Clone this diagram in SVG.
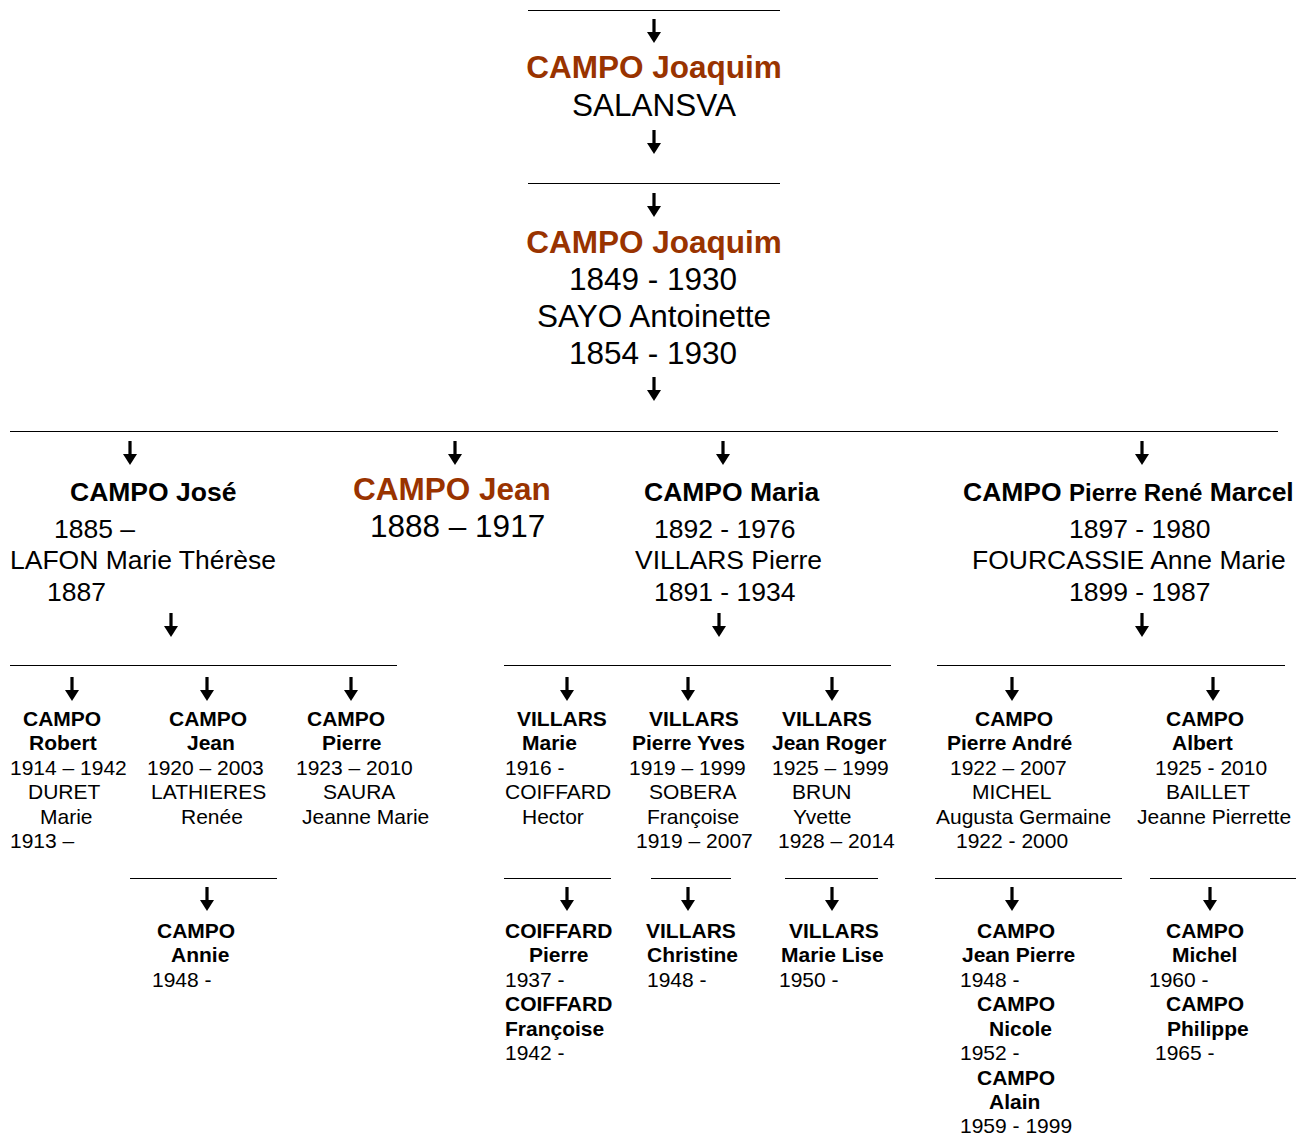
<svg xmlns="http://www.w3.org/2000/svg" width="1310" height="1135" viewBox="0 0 1310 1135">
<style>
text{font-family:"Liberation Sans",Arial,sans-serif;fill:#000}
.b{font-size:21px;font-weight:bold}
.r{font-size:21px}
.B{font-size:26.5px;font-weight:bold}
.R{font-size:26.5px}
.H{font-size:31.5px;font-weight:bold;fill:#993300}
.T{font-size:31.5px}
.m{text-anchor:middle}
.ln{stroke:#000;stroke-width:1.2}
</style>
<defs>
<g id="arr"><rect x="-1.6" y="0" width="3.2" height="14"/><polygon points="-7,13 7,13 0,24"/></g>
</defs>
<rect width="1310" height="1135" fill="#fff"/>
<g id="connectors">
<line class="ln" x1="528" y1="10.5" x2="780" y2="10.5"/>
<line class="ln" x1="528" y1="183.5" x2="780" y2="183.5"/>
<line class="ln" x1="10" y1="431.5" x2="1278" y2="431.5"/>
<line class="ln" x1="10" y1="665.5" x2="397" y2="665.5"/>
<line class="ln" x1="504" y1="665.5" x2="891" y2="665.5"/>
<line class="ln" x1="937" y1="665.5" x2="1285" y2="665.5"/>
<line class="ln" x1="130" y1="878.5" x2="277" y2="878.5"/>
<line class="ln" x1="504" y1="878.5" x2="611" y2="878.5"/>
<line class="ln" x1="651" y1="878.5" x2="731" y2="878.5"/>
<line class="ln" x1="785" y1="878.5" x2="878" y2="878.5"/>
<line class="ln" x1="935" y1="878.5" x2="1122" y2="878.5"/>
<line class="ln" x1="1150" y1="878.5" x2="1296" y2="878.5"/>
<use href="#arr" x="654" y="19"/>
<use href="#arr" x="654" y="130"/>
<use href="#arr" x="654" y="193"/>
<use href="#arr" x="654" y="377"/>
<use href="#arr" x="130" y="441"/>
<use href="#arr" x="455" y="441"/>
<use href="#arr" x="723" y="441"/>
<use href="#arr" x="1142" y="441"/>
<use href="#arr" x="171" y="613"/>
<use href="#arr" x="719" y="613"/>
<use href="#arr" x="1142" y="613"/>
<use href="#arr" x="72" y="677"/>
<use href="#arr" x="207" y="677"/>
<use href="#arr" x="351" y="677"/>
<use href="#arr" x="567" y="677"/>
<use href="#arr" x="688" y="677"/>
<use href="#arr" x="832" y="677"/>
<use href="#arr" x="1012" y="677"/>
<use href="#arr" x="1213" y="677"/>
<use href="#arr" x="207" y="887"/>
<use href="#arr" x="567" y="887"/>
<use href="#arr" x="688" y="887"/>
<use href="#arr" x="832" y="887"/>
<use href="#arr" x="1012" y="887"/>
<use href="#arr" x="1210" y="887"/>
</g>
<g transform="translate(0,-1)">
<g id="n-joaquim-salansva">
<text class="H m" x="654" y="79">CAMPO Joaquim</text>
<text class="T m" x="654" y="116.5">SALANSVA</text>
</g>
<g id="n-joaquim-sayo">
<text class="H m" x="654" y="253.5">CAMPO Joaquim</text>
<text class="T m" x="653" y="290.5">1849 - 1930</text>
<text class="T m" x="654" y="327.5">SAYO Antoinette</text>
<text class="T m" x="653" y="364.5">1854 - 1930</text>
</g>
<g id="n-jose">
<text class="B" x="70" y="501.5">CAMPO José</text>
<text class="R" x="54" y="538.5">1885 –</text>
<text class="R" x="10" y="570">LAFON Marie Thérèse</text>
<text class="R" x="47" y="601.5">1887</text>
</g>
<g id="n-jean">
<text class="H" x="353" y="501">CAMPO Jean</text>
<text class="T" x="370" y="538">1888 – 1917</text>
</g>
<g id="n-maria">
<text class="B" x="644" y="501.5">CAMPO Maria</text>
<text class="R" x="654" y="538.5">1892 - 1976</text>
<text class="R" x="635" y="570">VILLARS Pierre</text>
<text class="R" x="654" y="601.5">1891 - 1934</text>
</g>
<g id="n-pierre-rene">
<text class="B" x="963" y="501.5">CAMPO <tspan font-size="24">Pierre René</tspan> Marcel</text>
<text class="R" x="1069" y="538.5">1897 - 1980</text>
<text class="R" x="972" y="570">FOURCASSIE Anne Marie</text>
<text class="R" x="1069" y="601.5">1899 - 1987</text>
</g>
<g id="n-robert">
<text class="b" x="23" y="726.5">CAMPO</text>
<text class="b" x="29" y="751">Robert</text>
<text class="r" x="10" y="775.5">1914 – 1942</text>
<text class="r" x="28" y="800">DURET</text>
<text class="r" x="40" y="824.5">Marie</text>
<text class="r" x="10" y="849">1913 –</text>
</g>
<g id="n-jean2">
<text class="b" x="169" y="726.5">CAMPO</text>
<text class="b" x="187" y="751">Jean</text>
<text class="r" x="147" y="775.5">1920 – 2003</text>
<text class="r" x="151" y="800">LATHIERES</text>
<text class="r" x="181" y="824.5">Renée</text>
</g>
<g id="n-pierre">
<text class="b" x="307" y="726.5">CAMPO</text>
<text class="b" x="322" y="751">Pierre</text>
<text class="r" x="296" y="775.5">1923 – 2010</text>
<text class="r" x="323" y="800">SAURA</text>
<text class="r" x="302" y="824.5">Jeanne Marie</text>
</g>
<g id="n-annie">
<text class="b" x="157" y="938.5">CAMPO</text>
<text class="b" x="171" y="963">Annie</text>
<text class="r" x="152" y="987.5">1948 -</text>
</g>
<g id="n-villars-marie">
<text class="b" x="517" y="726.5">VILLARS</text>
<text class="b" x="522" y="751">Marie</text>
<text class="r" x="505" y="775.5">1916 -</text>
<text class="r" x="505" y="800">COIFFARD</text>
<text class="r" x="522" y="824.5">Hector</text>
</g>
<g id="n-villars-pierre-yves">
<text class="b" x="649" y="726.5">VILLARS</text>
<text class="b" x="632" y="751">Pierre Yves</text>
<text class="r" x="629" y="775.5">1919 – 1999</text>
<text class="r" x="649" y="800">SOBERA</text>
<text class="r" x="647" y="824.5">Françoise</text>
<text class="r" x="636" y="849">1919 – 2007</text>
</g>
<g id="n-villars-jean-roger">
<text class="b" x="782" y="726.5">VILLARS</text>
<text class="b" x="772" y="751">Jean Roger</text>
<text class="r" x="772" y="775.5">1925 – 1999</text>
<text class="r" x="792" y="800">BRUN</text>
<text class="r" x="793" y="824.5">Yvette</text>
<text class="r" x="778" y="849">1928 – 2014</text>
</g>
<g id="n-coiffard">
<text class="b" x="505" y="938.5">COIFFARD</text>
<text class="b" x="529" y="963">Pierre</text>
<text class="r" x="505" y="987.5">1937 -</text>
<text class="b" x="505" y="1012">COIFFARD</text>
<text class="b" x="505" y="1036.5">Françoise</text>
<text class="r" x="505" y="1061">1942 -</text>
</g>
<g id="n-christine">
<text class="b" x="646" y="938.5">VILLARS</text>
<text class="b" x="647" y="963">Christine</text>
<text class="r" x="647" y="987.5">1948 -</text>
</g>
<g id="n-marie-lise">
<text class="b" x="789" y="938.5">VILLARS</text>
<text class="b" x="781" y="963">Marie Lise</text>
<text class="r" x="779" y="987.5">1950 -</text>
</g>
<g id="n-pierre-andre">
<text class="b" x="975" y="726.5">CAMPO</text>
<text class="b" x="947" y="751">Pierre André</text>
<text class="r" x="950" y="775.5">1922 – 2007</text>
<text class="r" x="972" y="800">MICHEL</text>
<text class="r" x="936" y="824.5">Augusta Germaine</text>
<text class="r" x="956" y="849">1922 - 2000</text>
</g>
<g id="n-albert">
<text class="b" x="1166" y="726.5">CAMPO</text>
<text class="b" x="1172" y="751">Albert</text>
<text class="r" x="1155" y="775.5">1925 - 2010</text>
<text class="r" x="1166" y="800">BAILLET</text>
<text class="r" x="1137" y="824.5">Jeanne Pierrette</text>
</g>
<g id="n-jean-pierre">
<text class="b" x="977" y="938.5">CAMPO</text>
<text class="b" x="962" y="963">Jean Pierre</text>
<text class="r" x="960" y="987.5">1948 -</text>
<text class="b" x="977" y="1012">CAMPO</text>
<text class="b" x="989" y="1036.5">Nicole</text>
<text class="r" x="960" y="1061">1952 -</text>
<text class="b" x="977" y="1085.5">CAMPO</text>
<text class="b" x="989" y="1110">Alain</text>
<text class="r" x="960" y="1133.5">1959 - 1999</text>
</g>
<g id="n-michel">
<text class="b" x="1166" y="938.5">CAMPO</text>
<text class="b" x="1172" y="963">Michel</text>
<text class="r" x="1149" y="987.5">1960 -</text>
<text class="b" x="1166" y="1012">CAMPO</text>
<text class="b" x="1167" y="1036.5">Philippe</text>
<text class="r" x="1155" y="1061">1965 -</text>
</g>
</g>
</svg>
